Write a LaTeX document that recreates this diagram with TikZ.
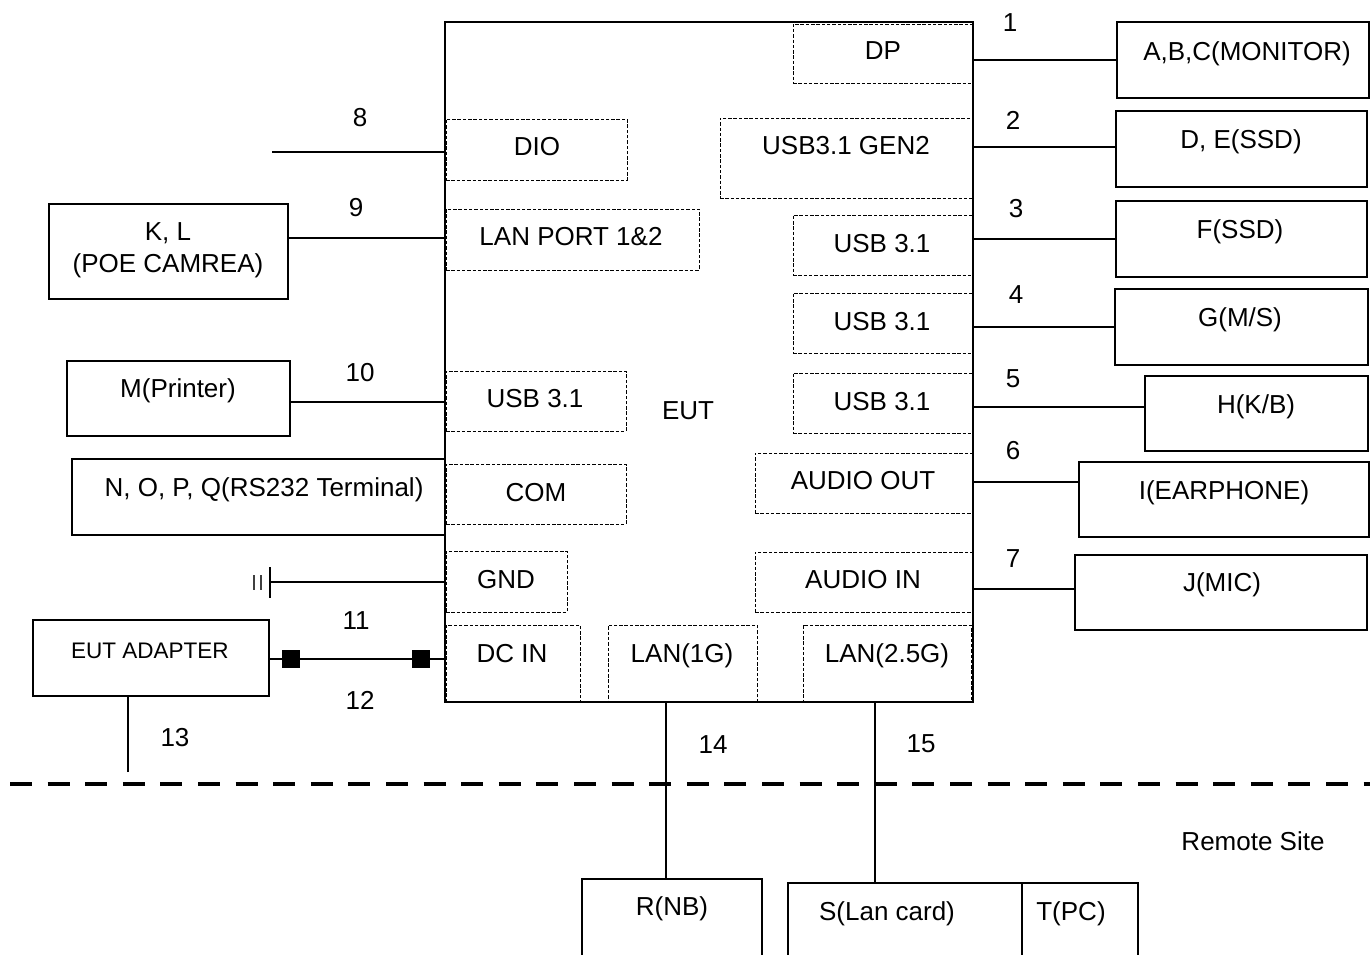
\documentclass[tikz,border=0pt]{standalone}
\usepackage{fontspec}
\setmainfont{Liberation Sans}
\begin{document}
\begin{tikzpicture}[x=1pt,y=-1pt,
 ext/.style={draw, line width=1.3pt, inner sep=0pt},
 port/.style={draw, line width=0.9pt, dash pattern=on 3.5pt off 1.8pt, inner sep=0pt},
 lbl/.style={font=\fontsize{26}{30}\selectfont, text height=19pt, text depth=0pt, inner sep=0pt},
 slbl/.style={font=\fontsize{22.5}{26}\selectfont, text height=16.5pt, text depth=0pt, inner sep=0pt},
 conn/.style={line width=1.3pt},
 pad/.style={fill=black, minimum size=18pt, inner sep=0pt}]
\useasboundingbox (0,0) rectangle (1370,955);

% EUT main box
\node[ext, minimum width=528pt, minimum height=680pt] (eut) at (709,362) {};

% ports
\node[port, minimum width=180pt, minimum height=59pt] (dp) at (883,53.5) {};
\node[port, minimum width=181pt, minimum height=61pt] (dio) at (536.5,149.5) {};
\node[port, minimum width=252pt, minimum height=80pt] (gen2) at (846,158) {};
\node[port, minimum width=253pt, minimum height=61pt] (lanp) at (572.5,239.5) {};
\node[port, minimum width=179pt, minimum height=60pt] (u3) at (882.5,245) {};
\node[port, minimum width=179pt, minimum height=60pt] (u4) at (882.5,323) {};
\node[port, minimum width=179pt, minimum height=60pt] (u5) at (882.5,403) {};
\node[port, minimum width=180pt, minimum height=60pt] (ul) at (536,401) {};
\node[port, minimum width=180pt, minimum height=60pt] (com) at (536,494) {};
\node[port, minimum width=217pt, minimum height=60pt] (aout) at (863.5,483) {};
\node[port, minimum width=121pt, minimum height=61pt] (gnd) at (506.5,581.5) {};
\node[port, minimum width=217pt, minimum height=60pt] (ain) at (863.5,582) {};
\node[port, minimum width=134pt, minimum height=77pt] (dcin) at (513,663.5) {};
\node[port, minimum width=149pt, minimum height=77pt] (lan1) at (682.5,663.5) {};
\node[port, minimum width=168pt, minimum height=77pt] (lan25) at (887,663.5) {};

\node[lbl] (tdp) at (883,50) {DP};
\node[lbl] (tdio) at (537,146) {DIO};
\node[lbl] (tgen2) at (846,145) {USB3.1 GEN2};
\node[lbl] (tlanp) at (571,236) {LAN PORT 1\&2};
\node[lbl] (tu3) at (882,243) {USB 3.1};
\node[lbl] (tu4) at (882,321) {USB 3.1};
\node[lbl] (tu5) at (882,401) {USB 3.1};
\node[lbl] (tul) at (535,398) {USB 3.1};
\node[lbl] (teut) at (688,410) {EUT};
\node[lbl] (tcom) at (536,492) {COM};
\node[lbl] (taout) at (863,480) {AUDIO OUT};
\node[lbl] (tgnd) at (506,579) {GND};
\node[lbl] (tain) at (863,579) {AUDIO IN};
\node[lbl] (tdcin) at (512,653) {DC IN};
\node[lbl] (tlan1) at (682,653) {LAN(1G)};
\node[lbl] (tlan25) at (887,653) {LAN(2.5G)};

% right external boxes
\node[ext, minimum width=252pt, minimum height=76pt] (mon) at (1243,60) {};
\node[ext, minimum width=251pt, minimum height=76pt] (ssd) at (1241.5,149) {};
\node[ext, minimum width=251pt, minimum height=76pt] (fssd) at (1241.5,239) {};
\node[ext, minimum width=253pt, minimum height=76pt] (ms) at (1241.5,327) {};
\node[ext, minimum width=223pt, minimum height=75pt] (kb) at (1256.5,413.5) {};
\node[ext, minimum width=290pt, minimum height=75pt] (ear) at (1224,499.5) {};
\node[ext, minimum width=292pt, minimum height=75pt] (mic) at (1221,592.5) {};

\node[lbl] (tmon) at (1247,51) {A,B,C(MONITOR)};
\node[lbl] (tssd) at (1241,139) {D, E(SSD)};
\node[lbl] (tfssd) at (1240,229) {F(SSD)};
\node[lbl] (tms) at (1240,317) {G(M/S)};
\node[lbl] (tkb) at (1256,404) {H(K/B)};
\node[lbl] (tear) at (1224,490) {I(EARPHONE)};
\node[lbl] (tmic) at (1222,582) {J(MIC)};

\draw[conn] (mon.west) -- (mon.west -| eut.east);
\draw[conn] ([yshift=2pt]ssd.west) -- ([yshift=2pt]ssd.west -| eut.east);
\draw[conn] (fssd.west) -- (fssd.west -| eut.east);
\draw[conn] (ms.west) -- (ms.west -| eut.east);
\draw[conn] ([yshift=6.5pt]kb.west) -- ([yshift=6.5pt]kb.west -| eut.east);
\draw[conn] ([yshift=17.5pt]ear.west) -- ([yshift=17.5pt]ear.west -| eut.east);
\draw[conn] ([yshift=3.5pt]mic.west) -- ([yshift=3.5pt]mic.west -| eut.east);

\node[lbl] (n1) at (1010,22) {1};
\node[lbl] (n2) at (1013,120) {2};
\node[lbl] (n3) at (1016,208) {3};
\node[lbl] (n4) at (1016,294) {4};
\node[lbl] (n5) at (1013,378) {5};
\node[lbl] (n6) at (1013,450) {6};
\node[lbl] (n7) at (1013,558) {7};

% left side
\coordinate (c8) at (272,152);
\draw[conn] (c8) -- (c8 -| eut.west);
\node[lbl] (n8) at (360,117) {8};

\node[ext, minimum width=239pt, minimum height=95pt] (cam) at (168.5,251.5) {};
\node[lbl] (tcam1) at (168,231) {K, L};
\node[lbl] (tcam2) at (168,263) {(POE CAMREA)};
\draw[conn] ([yshift=13.5pt]cam.east) -- ([yshift=13.5pt]cam.east -| eut.west);
\node[lbl] (n9) at (356,207) {9};

\node[ext, minimum width=223pt, minimum height=75pt] (prn) at (178.5,398.5) {};
\node[lbl] (tprn) at (178,388) {M(Printer)};
\draw[conn] ([yshift=-3.5pt]prn.east) -- ([yshift=-3.5pt]prn.east -| eut.west);
\node[lbl] (n10) at (360,372) {10};

\node[ext, minimum width=373pt, minimum height=76pt] (rs) at (258.5,497) {};
\node[lbl] (trs) at (264,487) {N, O, P, Q(RS232 Terminal)};

% ground
\coordinate (g0) at (270,582);
\draw[conn] (g0) -- (g0 -| eut.west);
\coordinate (g1) at (270,567);
\coordinate (g2) at (270,598);
\draw[conn] (g1) -- (g2);
\coordinate (g3) at (261,575);
\coordinate (g4) at (261,590);
\coordinate (g5) at (254,575);
\coordinate (g6) at (254,590);
\draw[line width=1.8pt, black!75] (g3) -- (g4);
\draw[line width=1.8pt, black!75] (g5) -- (g6);

% adapter
\node[ext, minimum width=236pt, minimum height=76pt] (adp) at (151,658) {};
\node[slbl] (tadp) at (150,650) {EUT ADAPTER};
\draw[conn] ([yshift=-1pt]adp.east) -- ([yshift=-1pt]adp.east -| eut.west);
\node[pad] (sq1) at (291,659) {};
\node[pad] (sq2) at (420.5,659) {};
\node[lbl] (n11) at (356,620) {11};
\node[lbl] (n12) at (360,700) {12};
\coordinate (c13) at (128,772);
\draw[conn] (c13) -- (c13 |- adp.south);
\node[lbl] (n13) at (175,737) {13};

% remote-site divider
\coordinate (dl1) at (10,784);
\coordinate (dl2) at (1372,784);
\draw[line width=4.5pt, dash pattern=on 22pt off 15.6pt] (dl1) -- (dl2);
\node[lbl] (trem) at (1253,841) {Remote Site};

% bottom boxes
\node[ext, minimum width=180pt, minimum height=83pt] (nb) at (672,920.5) {};
\node[lbl] (tnb) at (672,906) {R(NB)};
\node[ext, minimum width=234pt, minimum height=79pt] (lc) at (905,922.5) {};
\node[ext, minimum width=116pt, minimum height=79pt] (pc) at (1080,922.5) {};
\node[lbl] (tlc) at (887,911) {S(Lan card)};
\node[lbl] (tpc) at (1071,911) {T(PC)};

\draw[conn] ([xshift=-6pt]nb.north) -- ([xshift=-6pt]nb.north |- eut.south);
\draw[conn] ([xshift=-30pt]lc.north) -- ([xshift=-30pt]lc.north |- eut.south);
\node[lbl] (n14) at (713,744) {14};
\node[lbl] (n15) at (921,743) {15};
\end{tikzpicture}
\end{document}
